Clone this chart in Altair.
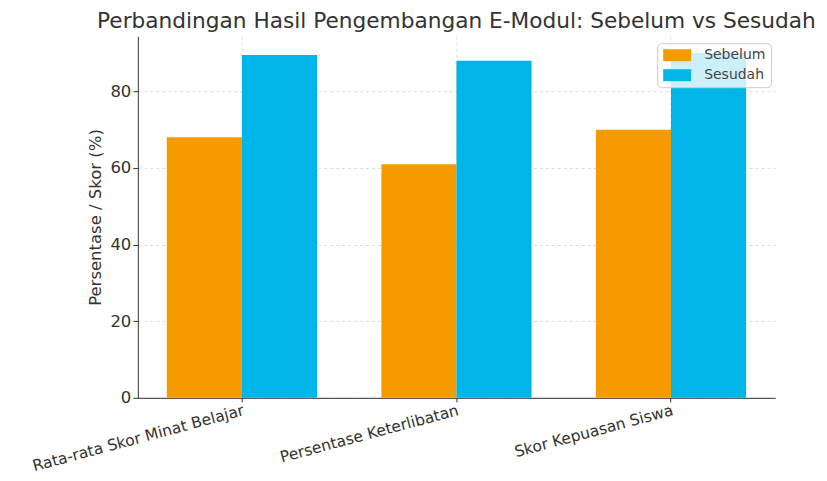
import altair as alt
import pandas as pd

categories = ["Rata-rata Skor Minat Belajar", "Persentase Keterlibatan", "Skor Kepuasan Siswa"]
sebelum = [68, 61, 70]
sesudah = [89.5, 88, 90]
series = ["Sebelum", "Sesudah"]
colors = ["#f59b00", "#00b5e8"]

rows = []
for c, a, b in zip(categories, sebelum, sesudah):
    rows.append({"Kategori": c, "Kondisi": "Sebelum", "Nilai": a})
    rows.append({"Kategori": c, "Kondisi": "Sesudah", "Nilai": b})
df = pd.DataFrame(rows)

font = "DejaVu Sans"

chart = alt.Chart(df).mark_bar().encode(
    x=alt.X("Kategori:N", sort=categories,
            scale=alt.Scale(paddingInner=0.3, paddingOuter=0.135),
            axis=alt.Axis(title=None, labelAngle=-15, labelAlign="right", labelBaseline="top",
                          labelFontSize=15.5, labelColor="#333333", labelPadding=1, labelLimit=0,
                          grid=True, gridDash=[3, 3], gridColor="#dddddd",
                          tickColor="#333333", tickSize=4,
                          domainColor="#333333")),
    xOffset=alt.XOffset("Kondisi:N", sort=series, scale=alt.Scale(paddingInner=0, paddingOuter=0)),
    y=alt.Y("Nilai:Q", scale=alt.Scale(domain=[0, 94.4], nice=False),
            axis=alt.Axis(title="Persentase / Skor (%)", values=[0, 20, 40, 60, 80],
                          labelFontSize=16.5, labelColor="#333333", titleFontSize=16.5,
                          titleFontWeight="normal", titleColor="#333333", titlePadding=6,
                          grid=True, gridDash=[3, 3], gridColor="#dddddd",
                          tickColor="#333333", tickSize=5, domainColor="#333333")),
    color=alt.Color("Kondisi:N", sort=series,
                    scale=alt.Scale(domain=series, range=colors),
                    legend=alt.Legend(title=None, orient="none", legendX=520, legendY=7,
                                      symbolType="M-1,-1H3.667V1H-1Z", symbolSize=144,
                                      symbolStrokeWidth=0, labelFontSize=14, labelColor="#444444",
                                      fillColor="rgba(255,255,255,0.8)", strokeColor="#cccccc",
                                      cornerRadius=4, padding=5, rowPadding=6, labelOffset=28)),
).properties(
    width=638,
    height=362,
    title=alt.Title("Perbandingan Hasil Pengembangan E-Modul: Sebelum vs Sesudah",
                    fontSize=21.7, fontWeight="normal", color="#333333", offset=4, font=font),
    autosize=alt.AutoSizeParams(type="none"),
    padding={"left": 130, "top": 28, "right": 44, "bottom": 74},
).configure(font=font).configure_view(stroke=None).configure_axis(labelFont=font, titleFont=font)

chart.save("out.html", embed_options={"renderer": "svg", "actions": False})
